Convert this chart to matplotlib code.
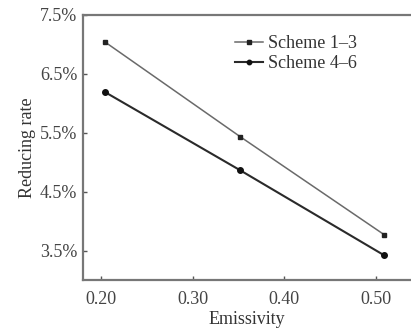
import matplotlib
matplotlib.use("Agg")
import matplotlib.pyplot as plt
from matplotlib.ticker import FuncFormatter

plt.rcParams['font.family'] = ['Liberation Serif', 'DejaVu Serif']

emissivity = [0.204, 0.352, 0.509]
scheme_1_3 = [7.04, 5.43, 3.77]
scheme_4_6 = [6.19, 4.86, 3.42]
x_ticks = [0.20, 0.30, 0.40, 0.50]
y_ticks = [3.5, 4.5, 5.5, 6.5, 7.5]

fig = plt.figure(figsize=(4.11, 3.31), dpi=100)
ax = fig.add_axes([0.202, 0.154, 0.795, 0.801])

ax.plot(emissivity, scheme_1_3, color='#6a6a6a', lw=1.1, marker='s', ms=3.5,
        mfc='#222222', mec='#222222', label='Scheme 1\u20133')
ax.plot(emissivity, scheme_4_6, color='#2a2a2a', lw=1.5, marker='o', ms=4,
        mfc='#111111', mec='#111111', label='Scheme 4\u20136')

ax.set_xlim(0.18, 0.537)
ax.set_ylim(3.0, 7.5)
ax.set_xticks(x_ticks)
ax.set_yticks(y_ticks)
ax.xaxis.set_major_formatter(FuncFormatter(lambda v, p: f"{v:.2f}"))
ax.yaxis.set_major_formatter(FuncFormatter(lambda v, p: f"{v:.1f}%"))

for side in ['left', 'bottom', 'top']:
    ax.spines[side].set_color('#777777')
    ax.spines[side].set_linewidth(1.6)
ax.spines['right'].set_visible(False)
ax.tick_params(direction='in', length=3, width=1, color='#555555',
               labelsize=13, labelcolor='#444444', pad=4)
ax.tick_params(axis='x', pad=8)

ax.set_xlabel('Emissivity', fontsize=13, color='#333333', labelpad=2)
ax.set_ylabel('Reducing rate', fontsize=13, color='#333333', labelpad=3)

leg = ax.legend(loc='upper left', bbox_to_anchor=(0.427, 0.97), frameon=False,
                fontsize=13, handlelength=1.55, handletextpad=0.25,
                labelspacing=0.15, borderpad=0.2, markerscale=0.8)
for t in leg.get_texts():
    t.set_color('#333333')

fig.savefig('out.png', dpi=100)
